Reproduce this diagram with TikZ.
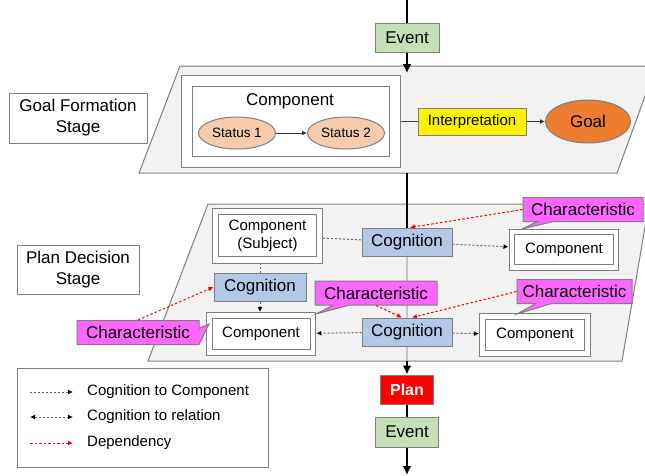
\documentclass[tikz,border=0pt]{standalone}
\usepackage{fontspec}
\setmainfont{Liberation Sans}
\usetikzlibrary{arrows.meta,shapes.geometric,shapes.callouts}

\definecolor{edgegray}{HTML}{7F7F7F}
\definecolor{stagefill}{HTML}{F2F2F2}
\definecolor{eventgreen}{HTML}{C5E0B4}
\definecolor{statusorange}{HTML}{F8CBAD}
\definecolor{goalorange}{HTML}{ED7D31}
\definecolor{cogblue}{HTML}{B4C7E7}
\definecolor{charpink}{HTML}{FF66FF}
\newcommand{\fsize}[2]{\fontsize{#1}{#2}\selectfont}

\tikzset{
	box/.style={draw=edgegray, line width=1pt, inner sep=0pt, align=center},
	eventbox/.style={box, fill=eventgreen, minimum width=64pt, minimum height=29pt, font=\fsize{17}{20}},
	stagebox/.style={box, fill=white, font=\fsize{17}{21}},
	stagearea/.style={draw=edgegray, line width=1pt, fill=stagefill},
	dbox/.style={box, fill=white, double=white, double distance=4.5pt, font=\fsize{15}{18}},
	statusnode/.style={ellipse, draw=edgegray, line width=1pt, fill=statusorange, minimum width=77pt, minimum height=32pt, inner sep=0pt, font=\fsize{13.5}{16}},
	cogbox/.style={box, fill=cogblue, minimum width=90pt, minimum height=28pt, font=\fsize{17}{20}},
	charbox/.style={rectangle callout, callout pointer width=16pt, draw=edgegray, line width=1pt, fill=charpink, inner sep=0pt, minimum height=24pt, font=\fsize{17}{20}},
	legtext/.style={anchor=west, inner sep=0pt, font=\fsize{15}{18}},
	mainline/.style={line width=2.5pt},
	mainarrow/.style={line width=2.5pt, -{Latex[length=9pt,width=9pt]}},
	centerline/.style={line width=2pt, draw=gray!45},
	thinarrow/.style={draw=black!80, line width=1pt, -{Latex[length=5pt,width=5pt]}},
	cogline/.style={draw=gray!80!black, line width=1pt, dash pattern=on 2pt off 2pt},
	cogarrow/.style={cogline, -{Latex[black,length=5pt,width=5pt]}},
	relarrow/.style={cogline, {Latex[black,length=5pt,width=5pt]}-{Latex[black,length=5pt,width=5pt]}},
	deparrow/.style={draw=red, line width=1pt, dash pattern=on 2.5pt off 2pt, -{Latex[red,length=5pt,width=5pt]}},
}

\begin{document}
\begin{tikzpicture}[x=1pt, y=-1pt]
	\useasboundingbox (0,0) rectangle (645,475);

	% stage areas
	\begin{scope}
		\clip (0,0) rectangle (645,475);
		\draw[stagearea] (180,66) -- (656,66) -- (617,173) -- (139,173) -- cycle;
		\draw[stagearea] (208,204) -- (649,204) -- (622,361) -- (148,361) -- cycle;
	\end{scope}

	\node[stagebox, minimum width=138pt, minimum height=50pt] (goalstage) at (78,118) {Goal Formation\\Stage};
	\node[stagebox, minimum width=122pt, minimum height=49pt] (planstage) at (78,269.5) {Plan Decision\\Stage};

	% goal formation
	\node[eventbox] (ev1) at (407,38) {Event};
	\coordinate (top) at (407,0);
	\coordinate (gin) at (407,73);
	\coordinate (gout) at (407,173);
	\draw[mainline] (top) -- (ev1);
	\draw[mainarrow] (ev1) -- (gin);

	\node[dbox, double distance=10pt, minimum width=208pt, minimum height=81pt] (comp) at (291,121.5) {};
	\node[font=\fsize{17}{20}] (complabel) at (290,101) {Component};
	\node[statusnode] (st1) at (237,133) {Status 1};
	\node[statusnode] (st2) at (346,133) {Status 2};
	\node[box, fill=yellow, minimum width=108pt, minimum height=27pt, font=\fsize{15}{18}] (interp) at (472,121.5) {Interpretation};
	\node[ellipse, draw=edgegray, line width=1pt, fill=goalorange, minimum width=85pt, minimum height=43pt, inner sep=0pt, font=\fsize{17}{20}] (goal) at (588,121.5) {Goal};
	\draw[thinarrow] (st1) -- (st2);
	\draw[draw=black!75, line width=1pt, shorten <=5pt] (comp) -- (interp);
	\draw[thinarrow] (interp) -- (goal);

	% plan decision
	\node[dbox, double distance=5.5pt, minimum width=104pt, minimum height=48.5pt] (subj) at (267.5,235.5) {Component\\(Subject)};
	\node[cogbox, minimum width=92pt] (cogL) at (260,287) {Cognition};
	\node[dbox, minimum width=103.5pt, minimum height=37pt] (compL) at (261,334) {Component};
	\node[cogbox] (cogA) at (407,242) {Cognition};
	\node[cogbox] (cogB) at (407,332) {Cognition};
	\node[dbox, minimum width=104pt, minimum height=35.5pt] (compTR) at (564,249.5) {Component};
	\node[dbox, minimum width=105pt, minimum height=37pt] (compBR) at (535,335) {Component};

	\draw[mainline] (gout) -- (cogA);
	\draw[centerline] (cogA) -- (cogB);
	\coordinate (pout) at (407,361);
	\draw[centerline] (cogB) -- (pout);

	\draw[cogline, shorten <=3pt] (subj) -- (cogA);
	\draw[cogarrow, shorten >=3pt] (cogA) -- (compTR);
	\draw[cogline, shorten <=3pt] (subj.south -| cogL.north) -- (cogL.north);
	\draw[cogarrow, shorten >=3pt] (cogL.south) -- (compL.north -| cogL.south);
	\draw[cogarrow, shorten >=3pt] (cogB) -- (compL);
	\draw[cogarrow, shorten >=3pt] (cogB) -- (compBR);

	\node[charbox, minimum width=122pt, callout absolute pointer={(209,324)}] (charL) at (138,332.5) {Characteristic};
	\node[charbox, minimum width=122pt, callout absolute pointer={(316,314)}] (charM) at (376,293) {Characteristic};
	\node[charbox, minimum width=120pt, callout absolute pointer={(522,229)}] (charTR) at (583,209.5) {Characteristic};
	\node[charbox, minimum width=115pt, callout absolute pointer={(517,314)}] (charBR) at (574.5,291.5) {Characteristic};

	\draw[deparrow] (charL.north) -- (cogL.west);
	\draw[deparrow] (charTR.west) -- ([xshift=3pt]cogA.north);
	\draw[deparrow] (charM.south) -- ([xshift=-5pt]cogB.north);
	\draw[deparrow] (charBR.west) -- ([xshift=5pt]cogB.north);

	% plan and next event
	\node[box, fill=red, text=white, font=\bfseries\fsize{16}{19}, minimum width=53pt, minimum height=29pt] (plan) at (407,389.5) {Plan};
	\node[eventbox, minimum width=63pt, minimum height=30pt] (ev2) at (407,432) {Event};
	\coordinate (bottom) at (407,475);
	\draw[mainarrow] (pout) -- (plan);
	\draw[mainline] (plan) -- (ev2);
	\draw[mainarrow] (ev2) -- (bottom);

	% legend
	\node[box, fill=white, minimum width=251pt, minimum height=99pt] (legend) at (142.5,417.5) {};
	\node[legtext] (lcomp) at (87,392) {Cognition to Component};
	\node[legtext] (lrel) at (87,417) {Cognition to relation};
	\node[legtext] (ldep) at (87,443) {Dependency};
	\coordinate (lcompa) at (30,392);
	\coordinate (lcompb) at (73,392);
	\coordinate (lrela) at (30,417);
	\coordinate (lrelb) at (73,417);
	\coordinate (ldepa) at (30,443);
	\coordinate (ldepb) at (73,443);
	\draw[cogarrow] (lcompa) -- (lcompb);
	\draw[relarrow] (lrela) -- (lrelb);
	\draw[deparrow] (ldepa) -- (ldepb);
\end{tikzpicture}
\end{document}
